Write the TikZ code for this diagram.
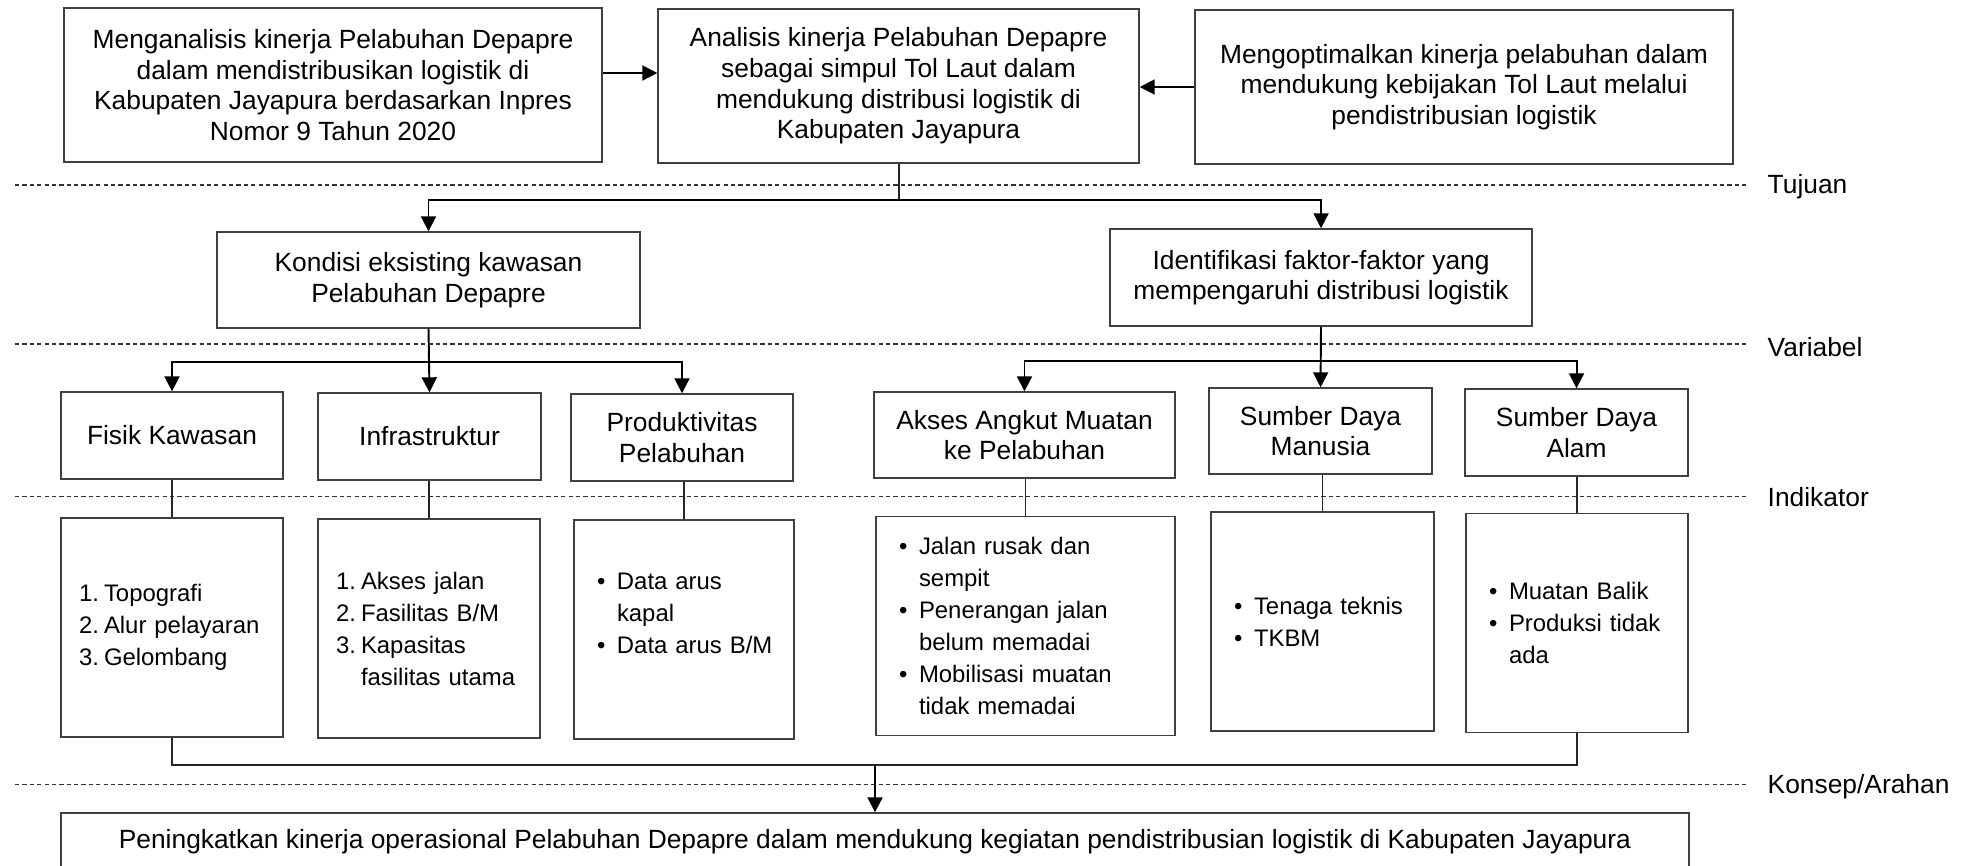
\documentclass[tikz,border=0pt]{standalone}
\usepackage{fontspec}
\setmainfont{Liberation Sans}
\usepackage{xcolor}
\usepackage{tikz}
\usetikzlibrary{arrows}
\usetikzlibrary{arrows.meta}

\newcommand{\numline}[2]{\mbox{\makebox[0.25cm][l]{#1}#2}}
\newcommand{\numcont}[1]{\mbox{\hspace*{0.25cm}#1}}
\newcommand{\bulline}[1]{\mbox{\makebox[0.20cm][l]{\textbullet}#1}}
\newcommand{\bulcont}[1]{\mbox{\hspace*{0.20cm}#1}}

\begin{document}
\begin{tikzpicture}[
    >={Triangle[length=1.5mm, width=1.5mm]},
    every node/.style={font=\fontsize{7.5}{8.7}\selectfont},
    box/.style={draw=black!75, line width=0.4pt, align=center, inner sep=0pt},
    listbox/.style={draw=black!75, line width=0.4pt, align=left, inner sep=0pt, minimum height=2.19cm, font=\fontsize{6.8}{9.1}\selectfont},
    level/.style={anchor=west, inner sep=0pt},
    sep/.style={line width=0.3pt, dash pattern=on 1.2pt off 0.9pt, black!80},
    link/.style={line width=0.35pt, black!85},
    flow/.style={line width=0.55pt, ->}
]
\useasboundingbox (0,0) rectangle (19.70,-8.65);

% Levels :
\node[level] (tujuan) at (17.67,-1.87) {Tujuan};
\node[level] (variabel) at (17.67,-3.47) {Variabel};
\node[level] (indikator) at (17.67,-4.97) {Indikator};
\node[level] (konsep) at (17.67,-7.87) {Konsep/Arahan};

\draw[sep] (0.15,-1.85) -- (17.47,-1.85);
\draw[sep] (0.15,-3.44) -- (17.47,-3.44);
\draw[sep] (0.15,-4.965) -- (17.47,-4.965);
\draw[sep] (0.15,-7.84) -- (17.47,-7.84);

% Nodes :
\node[box, minimum width=5.38cm, minimum height=1.54cm] (aims) at (3.33,-0.85) {Menganalisis kinerja Pelabuhan Depapre\\dalam mendistribusikan logistik di\\Kabupaten Jayapura berdasarkan Inpres\\Nomor 9 Tahun 2020};
\node[box, minimum width=4.81cm, minimum height=1.54cm] (main) at (8.985,-0.86) {Analisis kinerja Pelabuhan Depapre\\sebagai simpul Tol Laut dalam\\mendukung distribusi logistik di\\Kabupaten Jayapura};
\node[box, minimum width=5.38cm, minimum height=1.54cm] (optim) at (14.64,-0.87) {Mengoptimalkan kinerja pelabuhan dalam\\mendukung kebijakan Tol Laut melalui\\pendistribusian logistik};

\node[box, minimum width=4.23cm, minimum height=0.96cm] (kondisi) at (4.285,-2.80) {Kondisi eksisting kawasan\\Pelabuhan Depapre};
\node[box, minimum width=4.22cm, minimum height=0.97cm] (faktor) at (13.21,-2.775) {Identifikasi faktor-faktor yang\\mempengaruhi distribusi logistik};

\node[box, minimum width=2.22cm, minimum height=0.87cm] (fisik) at (1.72,-4.355) {Fisik Kawasan};
\node[box, minimum width=2.23cm, minimum height=0.87cm] (infra) at (4.295,-4.365) {Infrastruktur};
\node[box, minimum width=2.22cm, minimum height=0.87cm] (produk) at (6.82,-4.375) {Produktivitas\\Pelabuhan};
\node[box, minimum width=3.01cm, minimum height=0.86cm] (akses) at (10.245,-4.35) {Akses Angkut Muatan\\ke Pelabuhan};
\node[box, minimum width=2.23cm, minimum height=0.86cm] (sdm) at (13.205,-4.31) {Sumber Daya\\Manusia};
\node[box, minimum width=2.23cm, minimum height=0.87cm] (sda) at (15.765,-4.325) {Sumber Daya\\Alam};

\node[listbox, minimum width=2.22cm, text width=1.86cm] (fisikind) at (1.72,-6.275) {\numline{1.}{Topografi}\\\numline{2.}{Alur pelayaran}\\\numline{3.}{Gelombang}};
\node[listbox, minimum width=2.22cm, text width=1.86cm] (infraind) at (4.29,-6.285) {\numline{1.}{Akses jalan}\\\numline{2.}{Fasilitas B/M}\\\numline{3.}{Kapasitas}\\\numcont{fasilitas utama}};
\node[listbox, minimum width=2.20cm, text width=1.74cm] (produkind) at (6.84,-6.295) {\bulline{Data arus}\\\bulcont{kapal}\\\bulline{Data arus B/M}\\\mbox{}};
\node[listbox, minimum width=2.99cm, text width=2.53cm] (aksesind) at (10.255,-6.26) {\bulline{Jalan rusak dan}\\\bulcont{sempit}\\\bulline{Penerangan jalan}\\\bulcont{belum memadai}\\\bulline{Mobilisasi muatan}\\\bulcont{tidak memadai}};
\node[listbox, minimum width=2.23cm, text width=1.77cm] (sdmind) at (13.225,-6.215) {\bulline{Tenaga teknis}\\\bulline{TKBM}};
\node[listbox, minimum width=2.22cm, text width=1.76cm] (sdaind) at (15.77,-6.23) {\bulline{Muatan Balik}\\\bulline{Produksi tidak}\\\bulcont{ada}};

\node[box, minimum width=16.28cm, minimum height=0.58cm] (result) at (8.75,-8.42) {Peningkatkan kinerja operasional Pelabuhan Depapre dalam mendukung kegiatan pendistribusian logistik di Kabupaten Jayapura};

% Edges :
\draw[flow] (aims.east |- 0,-0.73) -- (main.west |- 0,-0.73);
\draw[flow] (optim.west) -- (optim.west -| main.east);

\coordinate (split) at (8.99,-2.00);
\draw[link] (main.south -| split) -- (split);
\draw[flow] (split) -| (kondisi.north);
\draw[flow] (split) -| (faktor.north);

\draw[flow] (kondisi.south) -- (infra.north);
\draw[flow] (kondisi.south |- 0,-3.62) -| (fisik.north);
\draw[flow] (kondisi.south |- 0,-3.62) -| (produk.north);

\draw[flow] (faktor.south) -- (sdm.north);
\draw[flow] (faktor.south |- 0,-3.61) -| (akses.north);
\draw[flow] (faktor.south |- 0,-3.61) -| (sda.north);

\draw[link] (fisikind.north) -- (fisikind.north |- fisik.south);
\draw[link] (infraind.north) -- (infraind.north |- infra.south);
\draw[link] (produkind.north) -- (produkind.north |- produk.south);
\draw[link] (aksesind.north) -- (aksesind.north |- akses.south);
\draw[link] (sdmind.north) -- (sdmind.north |- sdm.south);
\draw[link] (sdaind.north) -- (sdaind.north |- sda.south);

\coordinate (merge) at (8.75,-7.65);
\draw[link] (fisikind.south) |- (merge) -| (sdaind.south);
\draw[flow] (merge) -- (merge |- result.north);

\end{tikzpicture}
\end{document}
